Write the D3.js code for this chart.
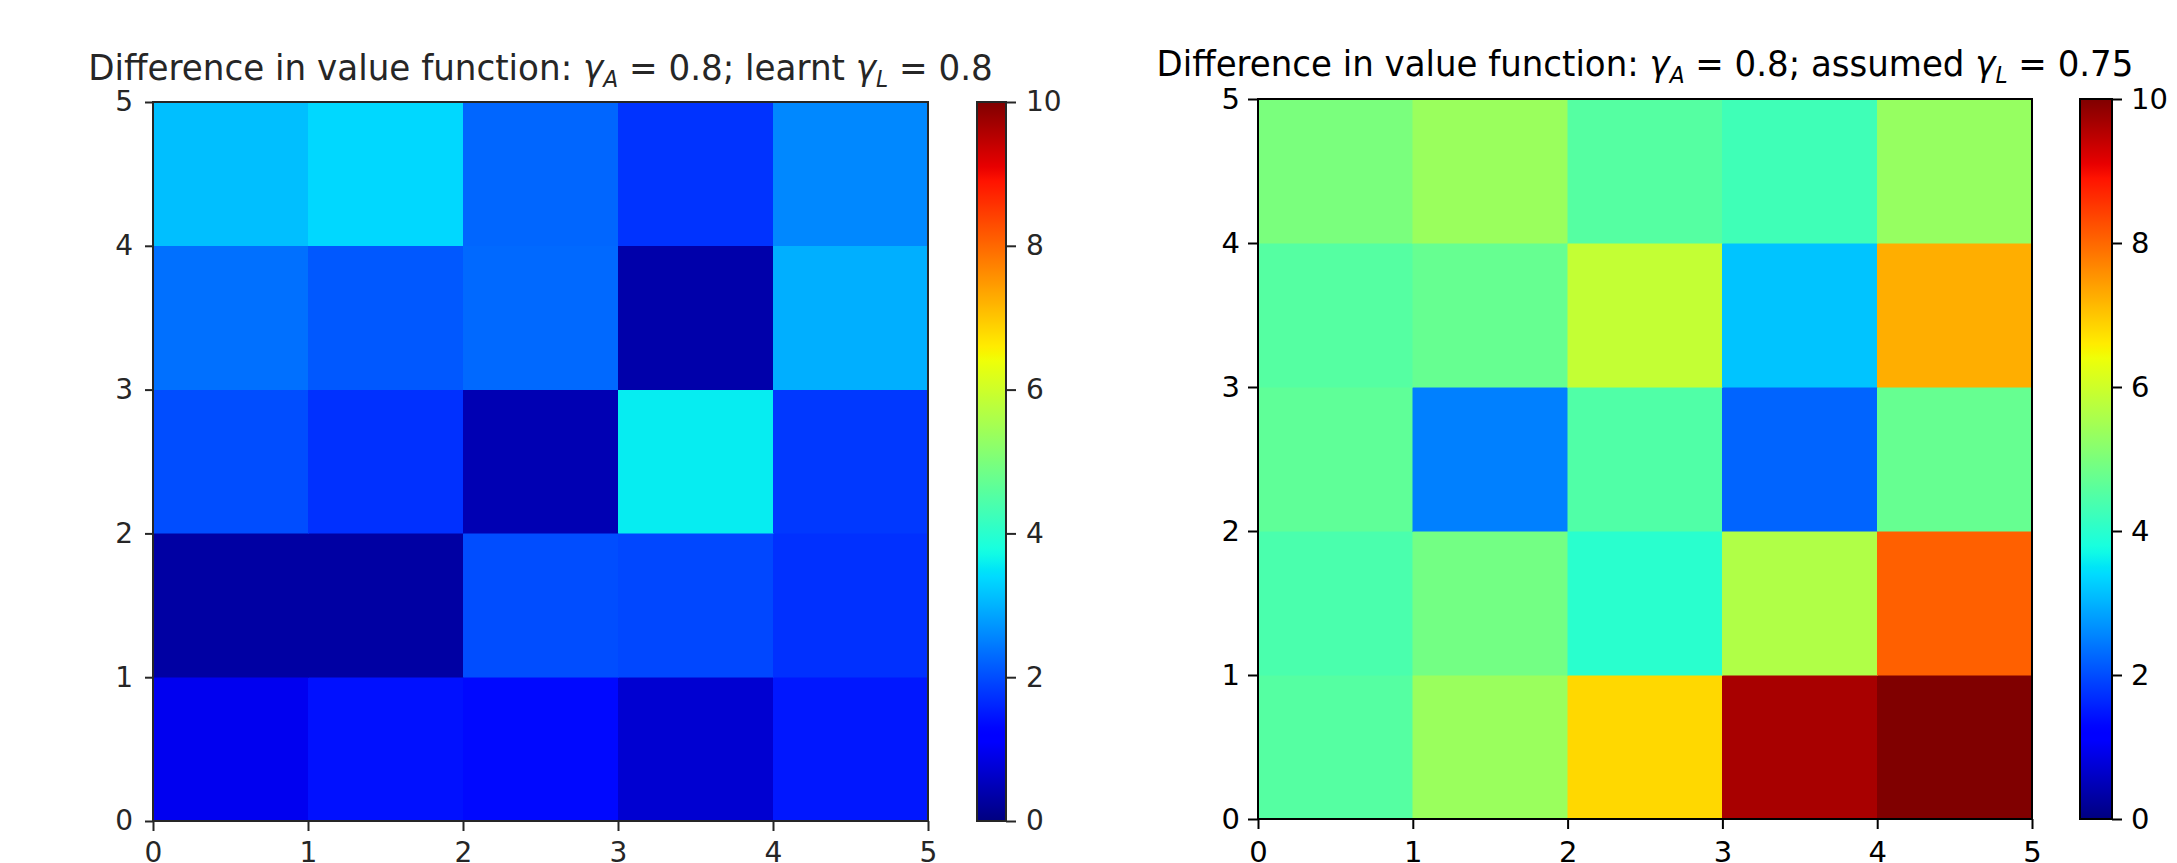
<!DOCTYPE html>
<html><head><meta charset="utf-8">
<script src="https://cdn.jsdelivr.net/npm/d3@7"></script>
<style>body{margin:0;background:#fff}svg{display:block}text{font-family:"DejaVu Sans",sans-serif}</style>
</head><body><svg id="c" width="2177" height="863"></svg>
<script>
// ---- data ----
const xTicks = [0, 1, 2, 3, 4, 5];
const yTicks = [0, 1, 2, 3, 4, 5];
const cbTicks = [0, 2, 4, 6, 8, 10];
const cbDomain = [0, 10];
// rows from bottom (y 0-1) to top (y 4-5), columns x 0-1 ... 4-5
const leftValues = [
  [0.97, 1.41, 1.33, 0.70, 1.48],
  [0.31, 0.31, 2.00, 1.95, 1.72],
  [2.00, 1.72, 0.44, 3.57, 1.80],
  [2.35, 2.11, 2.28, 0.37, 2.97],
  [3.12, 3.37, 2.25, 1.75, 2.58]
];
const rightValues = [
  [4.53, 5.37, 6.81, 9.65, 10.0],
  [4.40, 4.90, 4.00, 5.64, 8.08],
  [4.65, 2.50, 4.47, 2.23, 4.74],
  [4.53, 4.74, 5.87, 3.17, 7.26],
  [4.98, 5.37, 4.53, 4.27, 5.32]
];
const leftTitle = ["Difference in value function: ", "γ", "A", " = 0.8; learnt ", "γ", "L", " = 0.8"];
const rightTitle = ["Difference in value function: ", "γ", "A", " = 0.8; assumed ", "γ", "L", " = 0.75"];

// ---- jet colormap (matplotlib segment data) ----
const jetR = d3.scaleLinear().domain([0, 0.35, 0.66, 0.89, 1]).range([0, 0, 1, 1, 0.5]).clamp(true);
const jetG = d3.scaleLinear().domain([0, 0.125, 0.375, 0.64, 0.91, 1]).range([0, 0, 1, 1, 0, 0]).clamp(true);
const jetB = d3.scaleLinear().domain([0, 0.11, 0.34, 0.65, 1]).range([0.5, 1, 1, 0, 0]).clamp(true);
const norm = d3.scaleLinear().domain(cbDomain).range([0, 1]).clamp(true);
const jet = v => { const t = norm(v); return d3.rgb(255 * jetR(t), 255 * jetG(t), 255 * jetB(t)).formatHex(); };

const svg = d3.select("#c");
const defs = svg.append("defs");

const panels = [
  {values: leftValues, title: leftTitle, x0: 153, x1: 928, y0: 102, y1: 821, cb0: 977, cb1: 1006, titleY: 80, titleW: 905,
   ink: "#262626", yTick: 8, yPad: 12, cbPad: 10, fs: 28, fsx: 0.9},
  {values: rightValues, title: rightTitle, x0: 1258, x1: 2032, y0: 99, y1: 819, cb0: 2080, cb1: 2112, titleY: 76, titleW: 977,
   ink: "#000", yTick: 10, yPad: 8, cbPad: 9, fs: 29, fsx: 1}
];

panels.forEach((p, k) => {
  const xs = d3.scaleLinear().domain([0, 5]).range([p.x0, p.x1]);
  const ys = d3.scaleLinear().domain([0, 5]).range([p.y1, p.y0]);
  const g = svg.append("g");
  const cells = [];
  p.values.forEach((row, j) => row.forEach((v, i) => cells.push({i, j, v})));
  g.selectAll("rect.cell").data(cells).join("rect")
    .attr("class", "cell")
    .attr("x", d => xs(d.i)).attr("width", d => xs(d.i + 1) - xs(d.i))
    .attr("y", d => ys(d.j + 1)).attr("height", d => ys(d.j) - ys(d.j + 1))
    .attr("fill", d => jet(d.v)).attr("stroke", d => jet(d.v)).attr("stroke-width", 0.5)
    .attr("shape-rendering", "crispEdges");
  g.append("rect").attr("x", p.x0).attr("y", p.y0).attr("width", p.x1 - p.x0).attr("height", p.y1 - p.y0)
    .attr("fill", "none").attr("stroke", p.ink).attr("stroke-width", 2);

  const styleAxis = sel => {
    sel.attr("font-size", p.fs).attr("font-family", "DejaVu Sans, sans-serif");
    sel.select(".domain").remove();
    sel.selectAll(".tick line").attr("stroke", p.ink).attr("stroke-width", 2);
    sel.selectAll(".tick text").attr("fill", p.ink).attr("font-size", p.fs);
  };
  svg.append("g").attr("transform", `translate(${p.x0},0)`)
    .call(d3.axisLeft(ys).tickValues(yTicks).tickFormat(d3.format("d")).tickSize(p.yTick).tickPadding(p.yPad))
    .call(styleAxis);
  const xa = svg.append("g").attr("transform", `translate(0,${p.y1})`)
    .call(d3.axisBottom(xs).tickValues(xTicks).tickFormat(d3.format("d")).tickSize(10).tickPadding(15))
    .call(styleAxis);
  xa.selectAll(".tick text").attr("dy", null).attr("y", 862 - p.y1);

  // colorbar
  const gid = "jetgrad" + k;
  const grad = defs.append("linearGradient").attr("id", gid).attr("x1", 0).attr("y1", 1).attr("x2", 0).attr("y2", 0);
  grad.selectAll("stop").data(d3.range(0, 101)).join("stop")
    .attr("offset", d => d + "%").attr("stop-color", d => jet(cbDomain[0] + (cbDomain[1] - cbDomain[0]) * d / 100));
  const cs = d3.scaleLinear().domain(cbDomain).range([p.y1, p.y0]);
  svg.append("rect").attr("x", p.cb0).attr("y", p.y0).attr("width", p.cb1 - p.cb0).attr("height", p.y1 - p.y0)
    .attr("fill", `url(#${gid})`).attr("stroke", p.ink).attr("stroke-width", 2);
  svg.append("g").attr("transform", `translate(${p.cb1},0)`)
    .call(d3.axisRight(cs).tickValues(cbTicks).tickFormat(d3.format("d")).tickSize(10).tickPadding(p.cbPad))
    .call(styleAxis);

  // title
  const cx = (p.x0 + p.x1) / 2;
  const tg = svg.append("g").attr("transform", `translate(${cx},${p.titleY})`);
  const t = tg.append("text").attr("text-anchor", "middle").attr("fill", p.ink).attr("font-size", 36);
  p.title.forEach((s, idx) => {
    const ts = t.append("tspan").text(s);
    if (idx === 1 || idx === 4) ts.attr("font-style", "italic");
    if (idx === 2 || idx === 5) ts.attr("font-style", "italic").attr("font-size", 23).attr("dy", 7);
    if (idx === 3 || idx === 6) ts.attr("dy", -7);
  });
  const w = t.node().getBBox().width;
  tg.attr("transform", `translate(${cx},${p.titleY}) scale(${p.titleW / w},1)`);
});
</script></body></html>
